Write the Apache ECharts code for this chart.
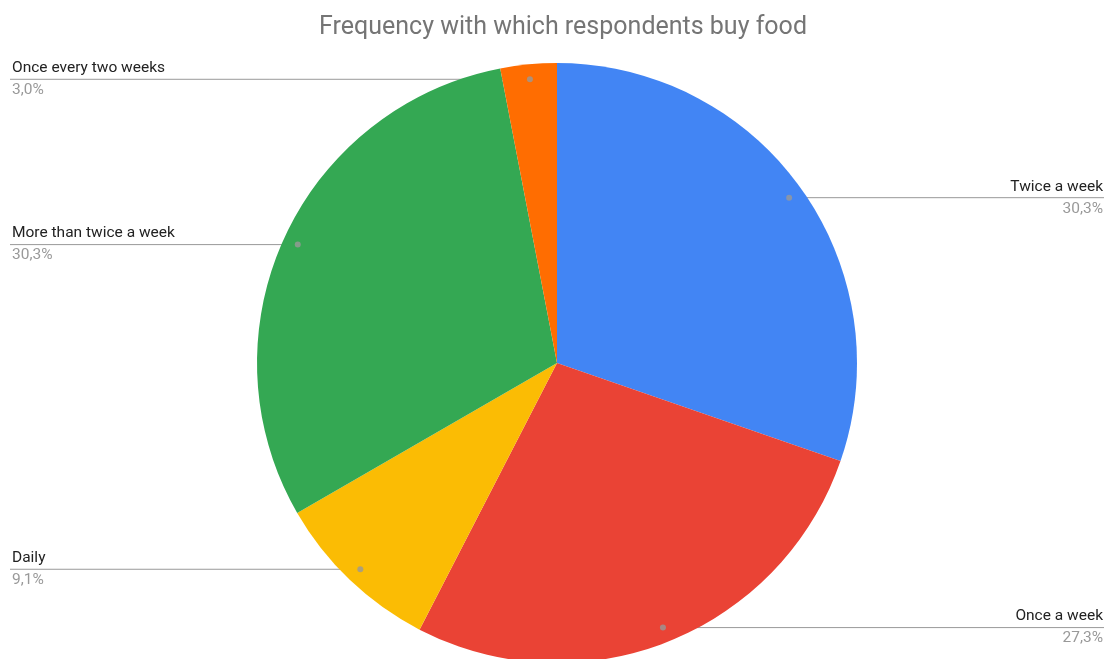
<!DOCTYPE html>
<html>
<head>
<meta charset="utf-8">
<style>
  html, body { margin: 0; padding: 0; background: #fff; }
  #chart { width: 1106px; height: 659px; }
</style>
<script src="https://cdn.jsdelivr.net/npm/echarts@6/dist/echarts.min.js"></script>
</head>
<body>
<div id="chart"></div>
<script>
// survey answers (33 respondents)
const categories = ['Twice a week', 'Once a week', 'Daily', 'More than twice a week', 'Once every two weeks'];
const counts = [10, 9, 3, 10, 1];
const colors = ['#4285F4', '#EA4335', '#FBBC04', '#34A853', '#FF6D01'];

const CX = 557, CY = 363, R = 300, DOT_R = 285;
const FONT = 'Roboto, Arial, sans-serif';

const total = counts.reduce((a, b) => a + b, 0);
const pieData = categories.map((name, i) => ({ name, value: counts[i], itemStyle: { color: colors[i] } }));

// marker at the middle of each slice, on the angle axis (value units)
let acc = 0;
const dots = counts.map(v => {
  const mid = acc + v / 2;
  acc += v;
  return [DOT_R, mid];
});

const chart = echarts.init(document.getElementById('chart'));

chart.setOption({
  animation: false,
  title: {
    text: 'Frequency with which respondents buy food',
    left: 314,
    top: 10,
    textStyle: { color: '#757575', fontSize: 25, fontWeight: 'normal', fontFamily: FONT }
  },
  polar: { center: [CX, CY], radius: R },
  angleAxis: { type: 'value', min: 0, max: total, startAngle: 90, clockwise: true, show: false },
  radiusAxis: { type: 'value', min: 0, max: R, show: false },
  series: [
    {
      type: 'pie',
      center: [CX, CY],
      radius: R,
      startAngle: 90,
      clockwise: true,
      silent: true,
      label: { show: false },
      labelLine: { show: false },
      data: pieData
    },
    {
      // transparent copy, only carries the labels and their leader lines
      type: 'pie',
      center: [CX, CY],
      radius: DOT_R,
      startAngle: 90,
      clockwise: true,
      silent: true,
      itemStyle: { color: 'rgba(0,0,0,0)' },
      label: {
        show: true,
        position: 'outside',
        alignTo: 'edge',
        edgeDistance: 3,
        fontFamily: FONT,
        formatter: p => '{n|' + p.name + '}\n{p|' + (p.value / total * 100).toFixed(1).replace('.', ',') + '%}',
        rich: {
          n: { fontFamily: FONT, fontSize: 15.5, color: '#222', lineHeight: 22 },
          p: { fontFamily: FONT, fontSize: 15.5, color: '#999', lineHeight: 22 }
        }
      },
      labelLine: { show: true, length: 0, length2: 10, lineStyle: { color: '#999', width: 1 } },
      labelLayout: function (p) {
        const pts = p.labelLinePoints;
        if (!pts) return {};
        const start = pts[0];
        const y = pts[pts.length - 1][1];
        const isLeft = p.labelRect.x + p.labelRect.width / 2 < CX;
        if (isLeft) {
          return { x: 12, labelLinePoints: [start, [10, y]] };
        }
        return { labelLinePoints: [start, [1104, y]] };
      },
      data: pieData.map(d => ({ name: d.name, value: d.value }))
    },
    {
      type: 'scatter',
      coordinateSystem: 'polar',
      silent: true,
      z: 10,
      symbolSize: 6,
      itemStyle: { color: '#999' },
      data: dots
    }
  ]
});
</script>
</body>
</html>
